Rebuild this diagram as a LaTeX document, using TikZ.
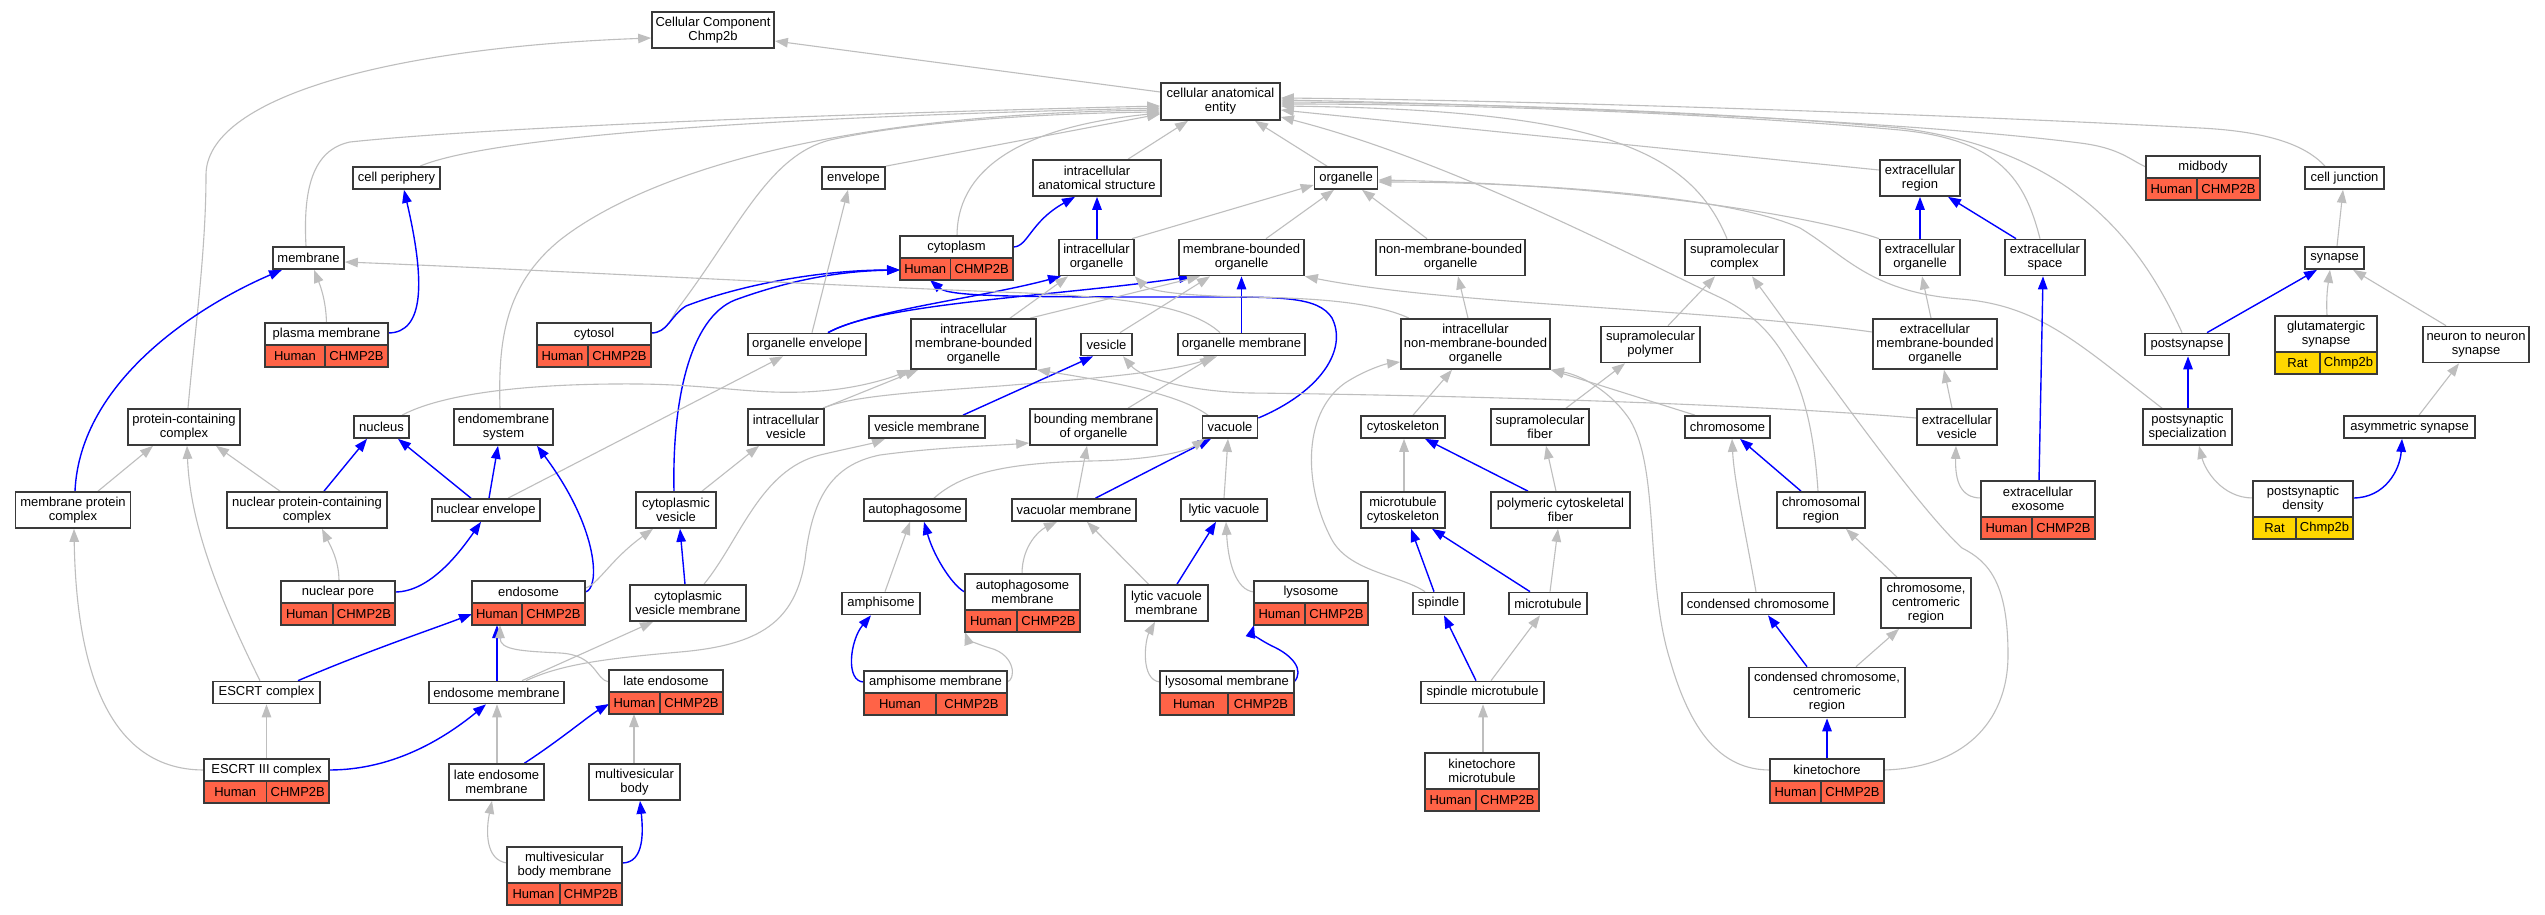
\documentclass[tikz,border=0pt]{standalone}
\usepackage{fontspec}
\setmainfont{Liberation Sans}
\usetikzlibrary{arrows.meta}
\definecolor{edgegrey}{HTML}{BEBEBE}
\definecolor{hum}{HTML}{FF6347}
\definecolor{rat}{HTML}{FFD700}
\definecolor{bord}{HTML}{3A3A3A}
\pgfdeclarelayer{bg}\pgfdeclarelayer{edges}\pgfsetlayers{bg,edges,main}
\tikzset{
  bx/.style={draw=bord, line width=1.7pt, fill=white, inner xsep=1pt, inner ysep=0pt, align=center, font=\fontsize{13}{14}\selectfont},
  cbx/.style={bx, minimum height=22},
  isa/.style={draw=edgegrey, line width=1.1pt, -{Triangle[length=13pt,width=9.5pt]}},
  part/.style={draw=blue, line width=1.4pt, -{Triangle[length=13pt,width=9.5pt]}}
}
\newcommand{\gonode}[6]{\node[bx,minimum width=#4,minimum height=#5] (#1) at (#2,#3) {#6};}
\newcommand{\goannot}[7]{%
  \node[inner sep=0pt,outer sep=0pt,minimum width={#4-#2},minimum height={#5+22}] (#1) at ({(#2+#4)/2},{#3+(#5+22)/2}) {};
  \node[bx,minimum width={#4-#2},minimum height=#5] (#1-l) at ({(#2+#4)/2},{#3+#5/2}) {#7};
  \node[cbx,fill=\acol,minimum width={#6-#2}] (#1-a) at ({(#2+#6)/2},{#3+#5+11}) {\asp};
  \node[cbx,fill=\acol,minimum width={#4-#6}] (#1-b) at ({(#6+#4)/2},{#3+#5+11}) {\agn};}
\newcommand{\humann}{\def\acol{hum}\def\asp{Human}\def\agn{CHMP2B}\goannot}
\newcommand{\ratann}{\def\acol{rat}\def\asp{Rat}\def\agn{Chmp2b}\goannot}
\begin{document}
\begin{tikzpicture}[x=1pt,y=-1pt]
\useasboundingbox (0,0) rectangle (2545,915);
\begin{pgfonlayer}{bg}\fill[white] (0,0) rectangle (2545,915);\end{pgfonlayer}
% ---------- nodes ----------
\gonode{cc}{713}{30}{122}{36}{Cellular Component\\Chmp2b}
\gonode{cae}{1220.5}{101.5}{119}{37}{cellular anatomical\\entity}
\gonode{cellper}{396.5}{178}{87}{22}{cell periphery}
\gonode{envelope}{853.5}{178}{63}{22}{envelope}
\gonode{ias}{1097}{178}{128}{36}{intracellular\\anatomical structure}
\gonode{organelle}{1346}{178}{63}{22}{organelle}
\gonode{extreg}{1920}{178}{80}{36}{extracellular\\region}
\humann{midbody}{2146}{156}{2260}{22}{2197}{midbody}
\gonode{celljunc}{2344.5}{178}{79}{22}{cell junction}
\gonode{membrane}{308.5}{258}{71}{22}{membrane}
\humann{cytoplasm}{900}{236}{1013}{22}{950.5}{cytoplasm}
\gonode{io}{1096.5}{257.5}{75}{36}{intracellular\\organelle}
\gonode{mbo}{1241.5}{257.5}{125}{36}{membrane-bounded\\organelle}
\gonode{nmbo}{1450.5}{257.5}{149}{36}{non-membrane-bounded\\organelle}
\gonode{supcomplex}{1734.5}{257.5}{99}{36}{supramolecular\\complex}
\gonode{extorg}{1920}{257.5}{80}{36}{extracellular\\organelle}
\gonode{extspace}{2045}{257.5}{80}{36}{extracellular\\space}
\gonode{synapse}{2334.5}{258}{59}{22}{synapse}
\humann{plasmamem}{265}{323}{388}{22}{325}{plasma membrane}
\humann{cytosol}{537}{323}{651}{22}{588}{cytosol}
\gonode{orgenv}{807}{344.5}{118}{22}{organelle envelope}
\gonode{imbo}{973.5}{344}{125}{50}{intracellular\\membrane-bounded\\organelle}
\gonode{vesicle}{1106.5}{344.5}{51}{22}{vesicle}
\gonode{orgmem}{1241.5}{344.5}{127}{22}{organelle membrane}
\gonode{inmbo}{1475.5}{344}{149}{50}{intracellular\\non-membrane-bounded\\organelle}
\gonode{suppoly}{1650.5}{344.5}{99}{36}{supramolecular\\polymer}
\gonode{extmbo}{1935}{344}{124}{50}{extracellular\\membrane-bounded\\organelle}
\gonode{postsynapse}{2187}{344.5}{84}{22}{postsynapse}
\ratann{glut}{2275}{316}{2377}{36}{2320}{glutamatergic\\synapse}
\gonode{n2n}{2476}{344.5}{106}{36}{neuron to neuron\\synapse}
\gonode{pcc}{184}{427}{112}{36}{protein-containing\\complex}
\gonode{nucleus}{381.5}{427}{55}{22}{nucleus}
\gonode{endomem}{503.5}{427}{99}{36}{endomembrane\\system}
\gonode{ivesicle}{786}{427}{76}{36}{intracellular\\vesicle}
\gonode{vesmem}{927}{427}{116}{22}{vesicle membrane}
\gonode{bmo}{1093.5}{427}{127}{36}{bounding membrane\\of organelle}
\gonode{vacuole}{1230}{427}{55}{22}{vacuole}
\gonode{cytoskel}{1403}{427}{84}{22}{cytoskeleton}
\gonode{supfiber}{1540}{427}{98}{36}{supramolecular\\fiber}
\gonode{chromosome}{1727.5}{427}{85}{22}{chromosome}
\gonode{extves}{1957}{427}{80}{36}{extracellular\\vesicle}
\gonode{pss}{2187.5}{427}{89}{36}{postsynaptic\\specialization}
\gonode{asym}{2409.5}{427}{131}{22}{asymmetric synapse}
\gonode{mpc}{73}{510}{115}{36}{membrane protein\\complex}
\gonode{npcc}{307}{510}{160}{36}{nuclear protein-containing\\complex}
\gonode{nucenv}{486}{510}{108}{22}{nuclear envelope}
\gonode{cytves}{676}{510}{80}{36}{cytoplasmic\\vesicle}
\gonode{autophagosome}{915}{510}{102}{22}{autophagosome}
\gonode{vacmem}{1074}{510}{124}{22}{vacuolar membrane}
\gonode{lyticvac}{1224}{510}{86}{22}{lytic vacuole}
\gonode{mtcyto}{1403}{510}{84}{36}{microtubule\\cytoskeleton}
\gonode{pcf}{1560.5}{510}{139}{36}{polymeric cytoskeletal\\fiber}
\gonode{chromreg}{1821}{510}{88}{36}{chromosomal\\region}
\humann{exosome}{1981}{481}{2095}{36}{2032}{extracellular\\exosome}
\ratann{psd}{2253}{481}{2353}{36}{2296}{postsynaptic\\density}
\humann{nucpore}{281}{581}{395}{22}{333}{nuclear pore}
\humann{endosome}{472}{581}{585}{22}{522}{endosome}
\gonode{cvm}{688}{603}{116}{36}{cytoplasmic\\vesicle membrane}
\gonode{amphisome}{881}{603.5}{78}{22}{amphisome}
\humann{apm}{965}{574}{1080}{36}{1017}{autophagosome\\membrane}
\gonode{lvm}{1166.5}{603}{83}{36}{lytic vacuole\\membrane}
\humann{lysosome}{1254}{581}{1368}{22}{1305}{lysosome}
\gonode{spindle}{1438.5}{603.5}{51}{22}{spindle}
\gonode{microtubule}{1548}{603.5}{78}{22}{microtubule}
\gonode{condchrom}{1758}{603.5}{152}{22}{condensed chromosome}
\gonode{ccr}{1926}{603}{90}{50}{chromosome,\\centromeric\\region}
\gonode{escrt}{266.5}{692.5}{107}{22}{ESCRT complex}
\gonode{endomemb}{496.5}{692.5}{135}{22}{endosome membrane}
\humann{lateendo}{609}{670}{723}{22}{660}{late endosome}
\humann{amphmem}{864}{671}{1007}{22}{936}{amphisome membrane}
\humann{lysmem}{1160}{671}{1294}{22}{1228}{lysosomal membrane}
\gonode{spindlemt}{1482.5}{692.5}{123}{22}{spindle microtubule}
\gonode{ccc}{1827}{692.5}{156}{50}{condensed chromosome,\\centromeric\\region}
\humann{escrt3}{204}{759}{329}{22}{266.5}{ESCRT III complex}
\gonode{lem}{496.5}{782}{95}{36}{late endosome\\membrane}
\gonode{mvb}{634.5}{782}{91}{36}{multivesicular\\body}
\humann{kmt}{1425}{753}{1539}{36}{1476}{kinetochore\\microtubule}
\humann{kinetochore}{1770}{759}{1884}{22}{1821}{kinetochore}
\humann{mvbm}{507}{847}{622}{36}{560}{multivesicular\\body membrane}
% ---------- edges ----------
\begin{pgfonlayer}{edges}
% top
\draw[isa] (cae.west|-0,92) -- (cc.east|-0,41);
\draw[isa] (pcc.north-|188,0) .. controls (195,330) and (206,250) .. (206,175) .. controls (206,100) and (380,48) .. (cc.west|-0,38);
% CAE from left
\draw[isa] (membrane.north-|306,0) .. controls (303,190) and (312,150) .. (350,142) .. controls (500,126) and (900,112) .. (cae.west|-0,106);
\draw[isa] (cellper.north-|420,0) .. controls (470,145) and (650,120) .. (cae.west|-0,108);
\draw[isa] (endomem.north-|500,0) .. controls (498,340) and (505,285) .. (560,240) .. controls (630,185) and (800,115) .. (cae.west|-0,110);
\draw[isa] (cytosol.east|-0,333) .. controls (668,333) and (670,318) .. (682,303) .. controls (740,225) and (770,155) .. (830,140) .. controls (920,120) and (1060,113) .. (cae.west|-0,112);
\draw[isa] (envelope.north east) -- (cae.west|-0,114);
\draw[isa] (cytoplasm.north-|957,0) .. controls (957,175) and (1010,128) .. (cae.west|-0,113);
\draw[isa] (ias.north-|1128,0) -- (cae.south-|1188,0);
\draw[isa] (organelle.north-|1327,0) -- (cae.south-|1255,0);
% CAE from right
\draw[isa] (supcomplex.north-|1727,0) .. controls (1690,150) and (1600,110) .. (cae.east|-0,106);
\draw[isa] (extreg.west|-0,170) -- (cae.east|-0,110);
\draw[isa] (extspace.north-|2040,0) .. controls (2025,180) and (2000,140) .. (1900,130) .. controls (1700,112) and (1450,104) .. (cae.east|-0,104);
\draw[isa] (postsynapse.north-|2182,0) .. controls (2140,240) and (2070,150) .. (1900,128) .. controls (1700,110) and (1450,103) .. (cae.east|-0,102);
\draw[isa] (midbody.west|-0,167) .. controls (2130,160) and (2120,148) .. (2080,143) .. controls (1900,120) and (1500,104) .. (cae.east|-0,100);
\draw[isa] (celljunc.north-|2325,0) .. controls (2310,150) and (2280,132) .. (2200,128) .. controls (1900,112) and (1500,100) .. (cae.east|-0,98);
\draw[isa] (chromreg.north-|1818,0) .. controls (1812,400) and (1790,330) .. (1719,297) .. controls (1640,260) and (1450,160) .. (cae.east|-0,117);
% organelle
\draw[isa] (io.north-|1132,0) -- (organelle.west|-0,185);
\draw[isa] (mbo.north-|1266,0) -- (organelle.south-|1334,0);
\draw[isa] (nmbo.north-|1427,0) -- (organelle.south-|1362,0);
\draw[isa] (extorg.north west) .. controls (1800,212) and (1600,184) .. (organelle.east|-0,180);
\draw[isa] (pss.north-|2162,0) .. controls (2080,345) and (2040,305) .. (1960,299) .. controls (1870,292) and (1845,255) .. (1800,228) .. controls (1720,192) and (1500,182) .. (organelle.east|-0,182);
% ias / cytoplasm
\draw[part] (io.north-|1097,0) -- (ias.south-|1097,0);
\draw[part] (cytoplasm.east|-0,247) .. controls (1028,247) and (1030,222) .. (ias.south-|1075,0);
\draw[part] (cytosol.east|-0,333) .. controls (668,333) and (670,316) .. (686,306) .. controls (740,285) and (820,270) .. (cytoplasm.west|-0,270);
\draw[part] (cytves.north-|674,0) .. controls (672,400) and (690,318) .. (735,300) .. controls (790,280) and (840,271) .. (cytoplasm.west|-0,270);
\draw[part] (vacuole.east|-0,418) .. controls (1320,392) and (1348,350) .. (1332,318) .. controls (1318,296) and (1280,297) .. (1200,297) .. controls (1020,297) and (950,297) .. (cytoplasm.south-|930,0);
\draw[part] (orgenv.north-|828,0) .. controls (870,310) and (980,298) .. (io.south-|1061,0);
\draw[part] (orgenv.north-|828,0) .. controls (880,303) and (1060,296) .. (mbo.south-|1192,0);
\draw[isa] (orgenv.north-|812,0) -- (envelope.south-|848,0);
\draw[isa] (imbo.north-|1010,0) -- (io.south-|1068,0);
\draw[isa] (imbo.north-|1030,0) -- (mbo.south-|1200,0);
\draw[isa] (vesicle.north-|1120,0) -- (mbo.south-|1210,0);
\draw[part] (orgmem.north-|1241.5,0) -- (mbo.south-|1241.5,0);
\draw[isa] (extmbo.west|-0,332) .. controls (1700,308) and (1450,305) .. (mbo.south east);
\draw[isa] (orgmem.north-|1220,0) .. controls (1190,305) and (1120,296) .. (1000,292) .. controls (800,284) and (500,268) .. (membrane.east|-0,262);
\draw[isa] (inmbo.north-|1409,0) .. controls (1370,300) and (1300,298) .. (1250,297) .. controls (1190,296) and (1150,292) .. (io.south east);
\draw[isa] (inmbo.north-|1468,0) -- (nmbo.south-|1458,0);
\draw[isa] (suppoly.north-|1668,0) -- (supcomplex.south-|1715,0);
\draw[isa] (kinetochore.east|-0,770) .. controls (1960,768) and (2008,725) .. (2008,655) .. controls (2008,585) and (1990,562) .. (1962,548) .. controls (1915,505) and (1810,355) .. (supcomplex.south-|1752,0);
\draw[isa] (kinetochore.west|-0,770) .. controls (1720,770) and (1690,730) .. (1670,660) .. controls (1645,580) and (1660,470) .. (1630,420) .. controls (1610,390) and (1580,375) .. (inmbo.south east);
\draw[isa] (cytoskel.north-|1413,0) -- (inmbo.south-|1452,0);
\draw[isa] (chromosome.north-|1695,0) -- (inmbo.south east);
\draw[isa] (spindle.north-|1425,0) .. controls (1400,575) and (1350,572) .. (1332,540) .. controls (1305,490) and (1300,415) .. (1345,383) .. controls (1365,370) and (1385,364) .. (inmbo.west|-0,362);
\draw[isa] (supfiber.north-|1566,0) -- (suppoly.south-|1625,0);
\draw[isa] (mtcyto.north-|1404,0) -- (cytoskel.south-|1404,0);
\draw[part] (pcf.north-|1528,0) -- (cytoskel.south-|1425,0);
\draw[isa] (pcf.north-|1556,0) -- (supfiber.south-|1546,0);
\draw[part] (spindle.north-|1434,0) -- (mtcyto.south-|1411,0);
\draw[part] (microtubule.north-|1530,0) -- (mtcyto.south-|1432,0);
\draw[isa] (microtubule.north-|1550,0) -- (pcf.south-|1558,0);
\draw[part] (spindlemt.north-|1476,0) -- (spindle.south-|1444,0);
\draw[isa] (spindlemt.north-|1491,0) -- (microtubule.south-|1540,0);
\draw[isa] (kmt.north-|1483,0) -- (spindlemt.south-|1483,0);
\draw[part] (chromreg.north-|1801,0) -- (chromosome.south-|1740,0);
\draw[isa] (condchrom.north-|1756,0) .. controls (1745,530) and (1734,480) .. (chromosome.south-|1732,0);
\draw[isa] (ccr.north-|1897,0) -- (chromreg.south-|1846,0);
\draw[part] (ccc.north-|1807,0) -- (condchrom.south-|1768,0);
\draw[isa] (ccc.north-|1856,0) -- (ccr.south-|1899,0);
\draw[part] (kinetochore.north-|1827,0) -- (ccc.south-|1827,0);
% extracellular
\draw[part] (extorg.north-|1920,0) -- (extreg.south-|1920,0);
\draw[part] (extspace.north-|2016,0) -- (extreg.south-|1948,0);
\draw[isa] (extmbo.north-|1931,0) -- (extorg.south-|1922,0);
\draw[isa] (extves.north-|1952,0) -- (extmbo.south-|1944,0);
\draw[isa] (exosome.west|-0,498) .. controls (1960,498) and (1955,480) .. (extves.south-|1956,0);
\draw[part] (exosome.north-|2039,0) -- (extspace.south-|2043,0);
\draw[isa] (extves.west|-0,418) .. controls (1700,400) and (1350,394) .. (1250,393) .. controls (1180,391) and (1140,376) .. (vesicle.south-|1123,0);
% synapse
\draw[part] (postsynapse.north-|2207,0) -- (synapse.south-|2317,0);
\draw[isa] (glut.north-|2327,0) .. controls (2326,295) and (2328,285) .. (synapse.south-|2330,0);
\draw[isa] (n2n.north-|2446,0) -- (synapse.south-|2353,0);
\draw[isa] (synapse.north-|2337,0) -- (celljunc.south-|2343,0);
\draw[part] (pss.north-|2188,0) -- (postsynapse.south-|2188,0);
\draw[isa] (asym.north-|2419,0) -- (n2n.south-|2459,0);
\draw[isa] (psd.west|-0,498) .. controls (2222,498) and (2205,470) .. (pss.south-|2199,0);
\draw[part] (psd.east|-0,498) .. controls (2385,498) and (2400,470) .. (asym.south-|2402,0);
% left part
\draw[part] (mpc.north-|75,0) .. controls (80,380) and (200,305) .. (membrane.south-|282,0);
\draw[isa] (mpc.north-|98,0) -- (pcc.south-|153,0);
\draw[isa] (npcc.north-|280,0) -- (pcc.south-|216,0);
\draw[part] (npcc.north-|324,0) -- (nucleus.south-|367,0);
\draw[isa] (escrt.north-|260,0) .. controls (215,590) and (190,520) .. (pcc.south-|187,0);
\draw[part] (nucenv.north-|471,0) -- (nucleus.south-|398,0);
\draw[part] (nucenv.north-|489,0) -- (endomem.south-|498,0);
\draw[isa] (nucenv.north-|508,0) -- (orgenv.south-|783,0);
\draw[isa] (nucleus.north-|402,0) .. controls (440,395) and (520,383) .. (640,384) .. controls (720,385) and (760,396) .. (820,391) .. controls (860,388) and (890,378) .. (imbo.south west);
\draw[isa] (plasmamem.north-|326.5,0) .. controls (326,300) and (320,285) .. (membrane.south-|314,0);
\draw[part] (plasmamem.east|-0,333) .. controls (425,333) and (425,280) .. (cellper.south-|404,0);
\draw[part] (nucpore.east|-0,592) .. controls (430,592) and (460,552) .. (nucenv.south-|481,0);
\draw[isa] (nucpore.north-|339,0) .. controls (339,560) and (330,545) .. (npcc.south-|322,0);
\draw[part] (endosome.east|-0,592) .. controls (600,590) and (600,530) .. (endomem.south-|537,0);
\draw[isa] (endosome.east|-0,588) .. controls (598,585) and (610,560) .. (cytves.south-|653,0);
\draw[part] (escrt.north-|298,0) .. controls (370,650) and (430,630) .. (endosome.west|-0,614);
\draw[part] (endomemb.north-|497,0) -- (endosome.south-|497,0);
\draw[isa] (lateendo.west|-0,682) .. controls (595,680) and (597,655) .. (560,653) .. controls (520,651) and (500,650) .. (endosome.south-|500,0);
\draw[isa] (endomemb.north-|522,0) -- (cvm.south-|653,0);
\draw[isa] (endomemb.north-|526,0) .. controls (560,665) and (600,659) .. (680,652) .. controls (760,645) and (795,622) .. (805,560) .. controls (812,500) and (830,465) .. (880,455) .. controls (940,447) and (990,446) .. (bmo.west|-0,443);
\draw[part] (escrt3.east|-0,770) .. controls (390,770) and (440,742) .. (endomemb.south-|486,0);
\draw[isa] (escrt3.north-|266.5,0) -- (escrt.south-|266.5,0);
\draw[isa] (escrt3.west|-0,770) .. controls (100,770) and (76,650) .. (mpc.south-|74,0);
\draw[isa] (lem.north-|497,0) -- (endomemb.south-|497,0);
\draw[part] (lem.north-|524.5,0) .. controls (560,740) and (590,715) .. (lateendo.west|-0,704);
\draw[isa] (mvb.north-|634,0) -- (lateendo.south-|634,0);
\draw[part] (mvbm.east|-0,863) .. controls (645,863) and (643,830) .. (mvb.south-|640,0);
\draw[isa] (mvbm.west|-0,863) .. controls (485,860) and (486,830) .. (lem.south-|492,0);
% middle
\draw[part] (cvm.north-|685,0) -- (cytves.south-|680,0);
\draw[isa] (cytves.north-|702,0) -- (ivesicle.south-|759,0);
\draw[isa] (cvm.north-|704,0) .. controls (740,540) and (760,470) .. (820,455) .. controls (850,448) and (870,444) .. (vesmem.south-|885,0);
\draw[isa] (ivesicle.north-|823,0) -- (imbo.south-|918,0);
\draw[isa] (ivesicle.north-|823,0) .. controls (850,397) and (900,393) .. (1000,386) .. controls (1100,378) and (1170,372) .. (orgmem.south-|1217,0);
\draw[part] (vesmem.north-|963,0) -- (vesicle.south-|1093,0);
\draw[isa] (bmo.north-|1128,0) -- (orgmem.south-|1213,0);
\draw[isa] (vacuole.north-|1208,0) .. controls (1180,395) and (1120,383) .. (imbo.south east);
\draw[isa] (vacmem.north-|1077,0) -- (bmo.south-|1087,0);
\draw[part] (vacmem.north-|1095.5,0) -- (vacuole.south-|1211,0);
\draw[isa] (lyticvac.north-|1224,0) -- (vacuole.south-|1228,0);
\draw[isa] (autophagosome.north-|934,0) .. controls (960,475) and (1000,463) .. (1090,461) .. controls (1150,460) and (1185,452) .. (vacuole.south-|1205,0);
\draw[part] (lvm.north-|1177,0) -- (lyticvac.south-|1216,0);
\draw[isa] (lvm.north-|1148.5,0) -- (vacmem.south-|1087,0);
\draw[isa] (lysosome.west|-0,592) .. controls (1235,590) and (1228,560) .. (lyticvac.south-|1226,0);
\draw[part] (lysmem.east|-0,682) .. controls (1305,670) and (1292,655) .. (1272,646) .. controls (1256,638) and (1252,632) .. (lysosome.south west);
\draw[isa] (lysmem.west|-0,682) .. controls (1140,680) and (1145,640) .. (lvm.south-|1155,0);
\draw[isa] (apm.north-|1022,0) .. controls (1022,545) and (1040,530) .. (vacmem.south-|1057,0);
\draw[part] (apm.west|-0,592) .. controls (955,588) and (935,560) .. (autophagosome.south-|924,0);
\draw[isa] (amphisome.north-|885,0) -- (autophagosome.south-|910,0);
\draw[part] (amphmem.west|-0,682) .. controls (845,682) and (850,640) .. (amphisome.south-|871,0);
\draw[isa] (amphmem.east|-0,682) .. controls (1016,680) and (1016,655) .. (990,648) .. controls (973,643) and (967,638) .. (apm.south west);
\end{pgfonlayer}
\end{tikzpicture}
\end{document}
